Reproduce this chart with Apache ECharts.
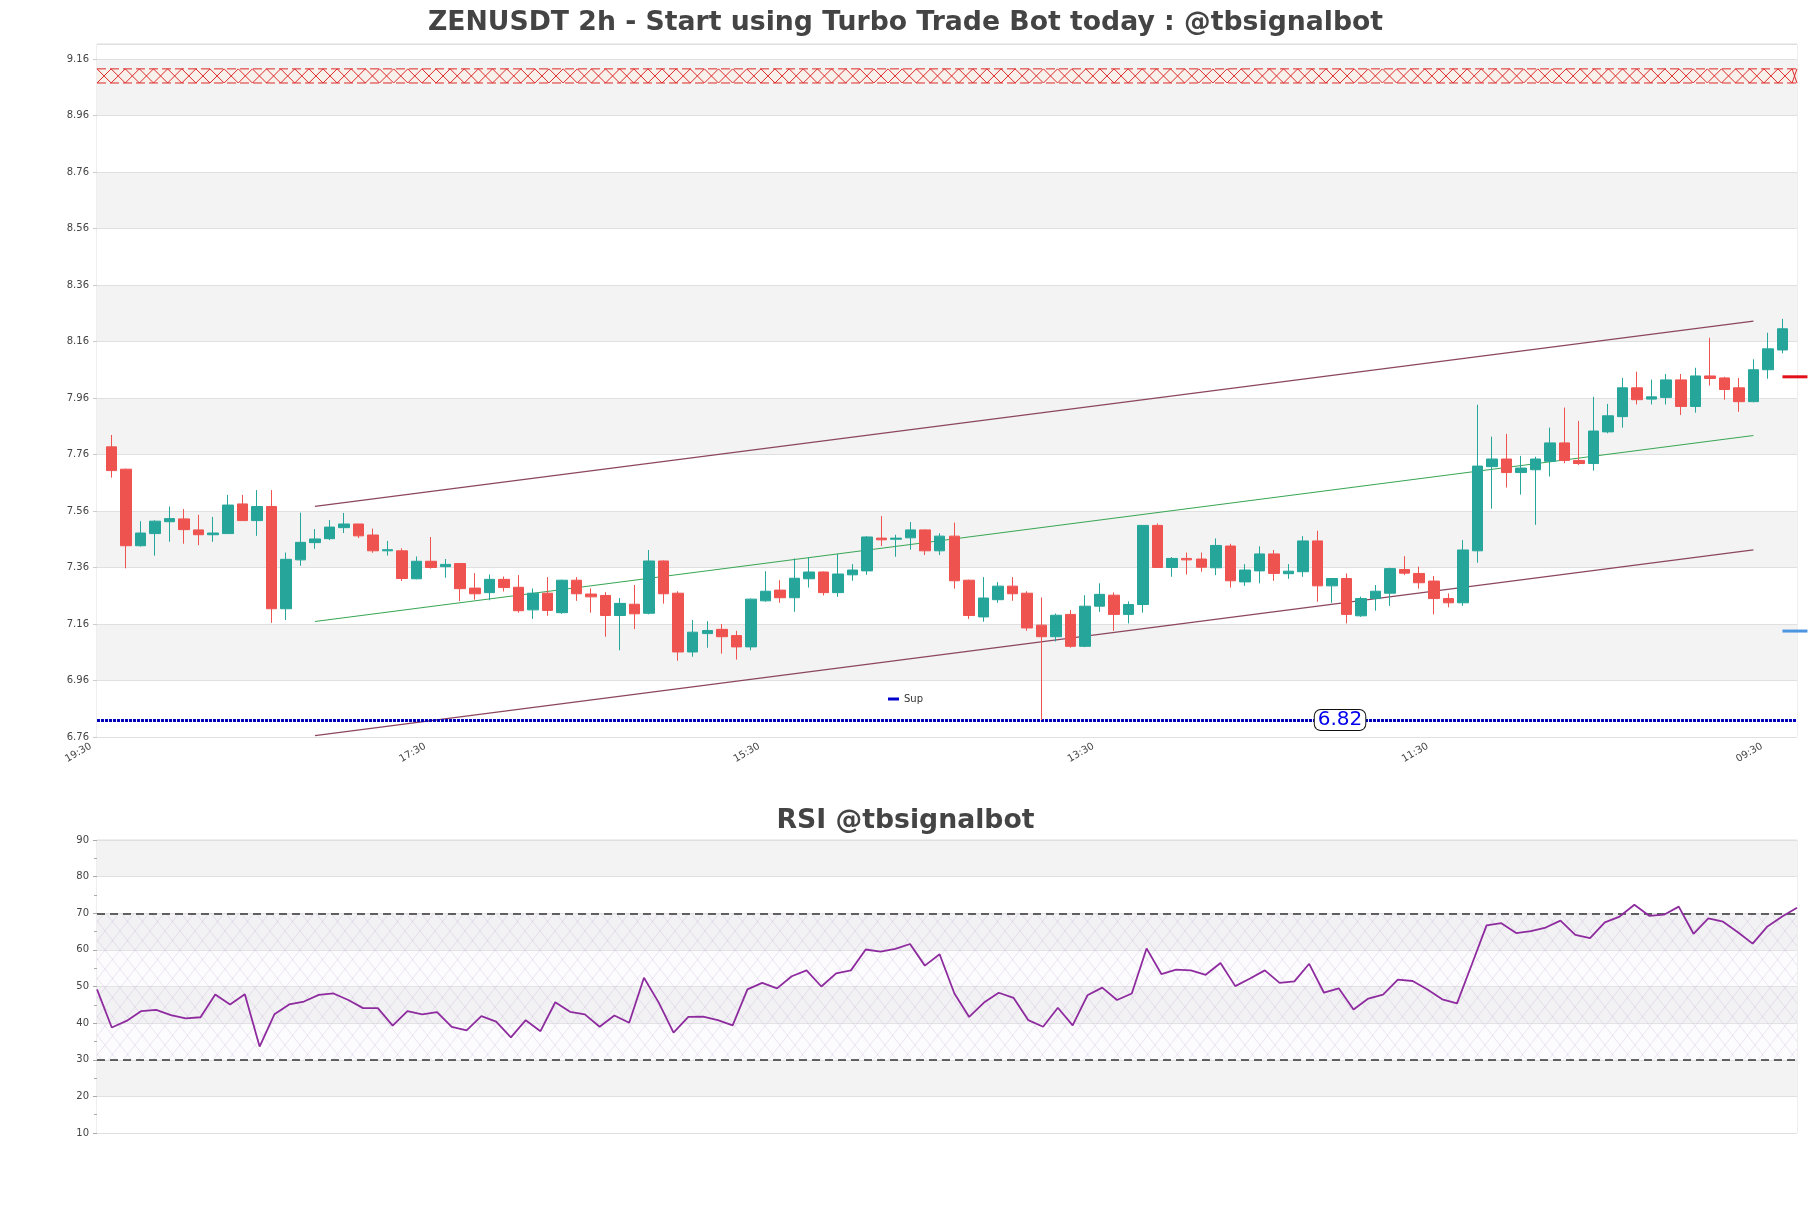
<!DOCTYPE html>
<html>
<head>
<meta charset="utf-8">
<script src="https://cdn.jsdelivr.net/npm/echarts@6/dist/echarts.min.js"></script>
<style>
html,body{margin:0;padding:0;background:#ffffff;}
#chart{width:1811px;height:1208px;}
</style>
</head>
<body>
<div id="chart"></div>
<script>
// ---------------- DATA ----------------
const chartTitle = 'ZENUSDT 2h - Start using Turbo Trade Bot today : @tbsignalbot';
const rsiTitle = 'RSI @tbsignalbot';

// category axis: 2h steps starting 19:30 (one empty slot each side of the candles)
const startMinutes = 19 * 60 + 30;
const stepMinutes = 120;
const slotCount = 118;
const categories = [];
for (let k = 0; k < slotCount; k++) {
  const m = (startMinutes + k * stepMinutes) % (24 * 60);
  categories.push(String(Math.floor(m / 60)).padStart(2, '0') + ':' + String(m % 60).padStart(2, '0'));
}

// candles: open, close, low, high
const opens = [7.787,7.708,7.437,7.480,7.522,7.532,7.493,7.476,7.480,7.585,7.526,7.576,7.214,7.387,7.448,7.462,7.501,7.514,7.475,7.419,
7.419,7.320,7.382,7.363,7.374,7.287,7.271,7.318,7.290,7.210,7.269,7.200,7.315,7.266,7.261,7.190,7.230,7.198,7.383,7.269,
7.061,7.126,7.141,7.119,7.079,7.242,7.280,7.253,7.320,7.344,7.271,7.334,7.348,7.464,7.460,7.465,7.493,7.419,7.471,7.315,
7.185,7.246,7.294,7.269,7.156,7.115,7.194,7.081,7.223,7.262,7.194,7.229,7.509,7.360,7.392,7.390,7.359,7.436,7.309,7.348,
7.408,7.338,7.345,7.454,7.295,7.321,7.189,7.250,7.269,7.353,7.339,7.312,7.250,7.235,7.419,7.717,7.744,7.696,7.706,7.736,
7.801,7.739,7.728,7.840,7.894,7.996,7.956,7.962,8.024,7.930,8.038,8.031,7.996,7.947,8.060,8.130];
const closes = [7.703,7.437,7.482,7.524,7.533,7.494,7.476,7.482,7.581,7.526,7.576,7.214,7.389,7.449,7.461,7.503,7.514,7.472,7.419,7.423,
7.321,7.382,7.360,7.371,7.285,7.267,7.318,7.289,7.207,7.269,7.208,7.315,7.267,7.256,7.190,7.233,7.196,7.383,7.267,7.061,
7.131,7.137,7.115,7.079,7.248,7.276,7.253,7.322,7.344,7.271,7.337,7.351,7.468,7.458,7.464,7.493,7.419,7.471,7.313,7.190,
7.252,7.294,7.267,7.146,7.115,7.191,7.081,7.223,7.265,7.194,7.229,7.509,7.360,7.392,7.387,7.361,7.438,7.313,7.351,7.408,
7.339,7.347,7.454,7.295,7.321,7.194,7.250,7.276,7.356,7.340,7.306,7.250,7.235,7.422,7.719,7.744,7.696,7.712,7.744,7.801,
7.739,7.728,7.843,7.897,7.996,7.954,7.964,8.024,7.930,8.038,8.029,7.990,7.947,8.060,8.134,8.205];
const lows = [7.678,7.357,7.434,7.402,7.451,7.444,7.439,7.451,7.480,7.526,7.472,7.164,7.174,7.366,7.426,7.457,7.482,7.464,7.412,7.402,
7.312,7.318,7.356,7.324,7.241,7.246,7.244,7.275,7.200,7.178,7.189,7.196,7.242,7.200,7.115,7.067,7.142,7.194,7.232,7.030,
7.044,7.076,7.055,7.034,7.067,7.239,7.235,7.203,7.289,7.261,7.256,7.313,7.334,7.436,7.398,7.423,7.404,7.404,7.285,7.178,
7.168,7.235,7.242,7.136,6.820,7.098,7.076,7.078,7.203,7.136,7.162,7.200,7.358,7.327,7.335,7.345,7.333,7.289,7.295,7.304,
7.313,7.320,7.327,7.239,7.235,7.162,7.185,7.207,7.224,7.333,7.285,7.194,7.219,7.224,7.377,7.568,7.643,7.618,7.511,7.682,
7.729,7.723,7.703,7.835,7.855,7.937,7.937,7.937,7.900,7.908,8.004,7.954,7.911,7.945,8.028,8.118];
const highs = [7.829,7.710,7.524,7.527,7.576,7.567,7.546,7.539,7.617,7.617,7.634,7.634,7.413,7.554,7.496,7.528,7.553,7.514,7.498,7.454,
7.428,7.399,7.468,7.390,7.376,7.340,7.335,7.328,7.333,7.286,7.326,7.317,7.326,7.286,7.273,7.252,7.298,7.422,7.385,7.276,
7.174,7.170,7.160,7.136,7.250,7.347,7.315,7.392,7.396,7.346,7.408,7.372,7.471,7.542,7.476,7.521,7.495,7.481,7.519,7.317,
7.326,7.308,7.326,7.276,7.254,7.197,7.209,7.262,7.304,7.272,7.240,7.510,7.516,7.397,7.413,7.413,7.463,7.444,7.372,7.435,
7.422,7.372,7.471,7.490,7.323,7.339,7.257,7.298,7.359,7.400,7.363,7.330,7.268,7.457,7.936,7.823,7.833,7.755,7.752,7.855,
7.926,7.879,7.964,7.939,8.031,8.053,8.025,8.045,8.045,8.067,8.173,8.035,8.031,8.097,8.191,8.240];

// RSI (one value per candle)
const rsiValues = [49.2,38.8,40.6,43.3,43.6,42.2,41.3,41.6,47.8,45.1,47.9,33.6,42.4,45.1,45.9,47.7,48.1,46.3,44.1,44.1,
39.3,43.3,42.4,43.0,39.0,38.0,41.9,40.4,36.1,40.8,37.8,45.7,43.1,42.4,39.0,42.1,40.1,52.4,45.6,37.4,
41.7,41.8,40.8,39.4,49.2,51.0,49.5,52.8,54.4,50.0,53.6,54.4,60.1,59.5,60.3,61.6,55.7,58.8,48.1,41.7,
45.6,48.3,46.9,40.8,39.0,44.2,39.4,47.6,49.7,46.3,48.1,60.4,53.4,54.6,54.4,53.2,56.4,50.1,52.2,54.4,
51.0,51.4,56.2,48.3,49.5,43.7,46.7,47.8,51.9,51.5,49.2,46.5,45.4,56.0,66.7,67.3,64.6,65.1,66.1,68.0,
64.1,63.2,67.5,69.1,72.3,69.3,69.6,71.8,64.4,68.6,67.7,64.8,61.7,66.4,69.1,71.5];

// channel (start slot, end slot, values at start/end)
const channelSlots = [15, 114];
const channelUpper = [7.576, 8.232];
const channelMiddle = [7.169, 7.827];
const channelLower = [6.765, 7.422];

// levels
const supportLevel = 6.82;
const supportLabelSlot = 85;
const resistanceZone = [9.075, 9.125];
const sideMarkLevels = [8.035, 7.135];
const rsiBounds = [30, 70];

// axis ranges
const priceMin = 6.76, priceMax = 9.213, priceStep = 0.2;
const rsiMin = 10, rsiMax = 90, rsiStep = 10;

// ---------------- BUILD ----------------
const candleData = opens.map((o, i) => [i + 1, o, closes[i], lows[i], highs[i]]);
const rsiCategories = rsiValues.map((v, i) => String(i));

// hatch pattern for RSI 30-70 zone
const pat = document.createElement('canvas');
pat.width = 15; pat.height = 19;
const pg = pat.getContext('2d');
pg.fillStyle = 'rgba(240,233,246,0.2)';
pg.fillRect(0, 0, 15, 19);
pg.strokeStyle = 'rgba(175,150,200,0.28)';
pg.lineWidth = 0.8;
pg.beginPath();
pg.moveTo(0, 0); pg.lineTo(15, 19);
pg.moveTo(15, 0); pg.lineTo(0, 19);
pg.stroke();

const chart = echarts.init(document.getElementById('chart'), null, {renderer: 'canvas'});
const font = 'DejaVu Sans';

const option = {
  animation: false,
  backgroundColor: '#ffffff',
  textStyle: {fontFamily: font},
  title: [
    {text: chartTitle, left: 'center', top: 5,
     textStyle: {fontSize: 26.7, fontWeight: 'bold', color: '#444444', fontFamily: font}},
    {text: rsiTitle, left: 'center', top: 803,
     textStyle: {fontSize: 26.7, fontWeight: 'bold', color: '#444444', fontFamily: font}}
  ],
  legend: {
    data: ['Sup'], top: 689, left: 'center', icon: 'rect', itemWidth: 11, itemHeight: 3,
    textStyle: {fontSize: 10, color: '#333333'}
  },
  grid: [
    {left: 97, right: 14, top: 44, height: 693, show: true, borderColor: '#dddddd', borderWidth: 1},
    {left: 97, right: 14, top: 840, height: 293, show: true, borderColor: '#dddddd', borderWidth: 1}
  ],
  xAxis: [
    {type: 'category', gridIndex: 0, data: categories, boundaryGap: false,
     axisLine: {show: false}, axisTick: {show: false}, splitLine: {show: false},
     axisLabel: {interval: 22, rotate: 30, fontSize: 10, color: '#444444', margin: 5, padding: [0, 7, 0, 0]}},
    {type: 'category', gridIndex: 1, data: rsiCategories, boundaryGap: false,
     axisLine: {show: false}, axisTick: {show: false}, axisLabel: {show: false}, splitLine: {show: false}}
  ],
  yAxis: [
    {type: 'value', gridIndex: 0, min: priceMin, max: priceMax, interval: priceStep,
     axisLine: {show: false},
     axisTick: {show: true, length: 4, lineStyle: {color: '#cccccc'}},
     axisLabel: {fontSize: 10, color: '#444444', showMaxLabel: false, formatter: v => v.toFixed(2)},
     splitLine: {show: true, lineStyle: {color: '#e0e0e0', width: 1}},
     splitArea: {show: true, areaStyle: {color: ['#ffffff', '#f3f3f3']}}},
    {type: 'value', gridIndex: 1, min: rsiMin, max: rsiMax, interval: rsiStep,
     axisLine: {show: false},
     axisTick: {show: true, length: 4, lineStyle: {color: '#aaaaaa'}},
     minorTick: {show: true, splitNumber: 2, length: 3, lineStyle: {color: '#aaaaaa'}},
     axisLabel: {fontSize: 10, color: '#444444'},
     splitLine: {show: true, lineStyle: {color: '#e0e0e0', width: 1}},
     splitArea: {show: true, areaStyle: {color: ['#ffffff', '#f3f3f3']}}}
  ],
  series: [
    {
      type: 'custom', name: 'zone', xAxisIndex: 0, yAxisIndex: 0, silent: true, z: 1,
      data: [[0, resistanceZone[0], resistanceZone[1]]],
      encode: {x: 0, y: [1, 2]},
      renderItem: function (params, api) {
        const cs = params.coordSys;
        const yTop = api.coord([0, api.value(2)])[1];
        const yBot = api.coord([0, api.value(1)])[1];
        const h = yBot - yTop;
        const x0 = cs.x, x1 = cs.x + cs.width;
        const za = [], zb = [];
        let k = 0;
        for (let x = x0; x <= x1 + h; x += h, k++) {
          const xx = Math.min(x, x1);
          za.push([xx, k % 2 === 0 ? yTop : yBot]);
          zb.push([xx, k % 2 === 0 ? yBot : yTop]);
          if (xx >= x1) break;
        }
        const red = '#dd2a2a';
        return {
          type: 'group',
          children: [
            {type: 'rect', shape: {x: x0, y: yTop, width: x1 - x0, height: h},
             style: {fill: 'rgba(255,238,225,0.45)'}},
            {type: 'polyline', shape: {points: za}, style: {stroke: red, lineWidth: 1, fill: null}},
            {type: 'polyline', shape: {points: zb}, style: {stroke: red, lineWidth: 1, fill: null}},
            {type: 'line', shape: {x1: x0, y1: yTop, x2: x1, y2: yTop}, style: {stroke: red, lineWidth: 1, lineDash: [9, 4]}},
            {type: 'line', shape: {x1: x0, y1: yBot, x2: x1, y2: yBot}, style: {stroke: red, lineWidth: 1, lineDash: [9, 4]}}
          ]
        };
      }
    },
    {
      type: 'candlestick', name: 'ZENUSDT', xAxisIndex: 0, yAxisIndex: 0, z: 5,
      data: candleData, encode: {x: 0, y: [1, 2, 3, 4]},
      barWidth: 11,
      itemStyle: {color: '#26a69a', color0: '#ef5350', borderColor: '#26a69a', borderColor0: '#ef5350', borderWidth: 1}
    },
    {
      type: 'line', name: 'upper', xAxisIndex: 0, yAxisIndex: 0, symbol: 'none', silent: true, z: 3,
      data: [[channelSlots[0], channelUpper[0]], [channelSlots[1], channelUpper[1]]],
      lineStyle: {color: '#8c4660', width: 1.3}
    },
    {
      type: 'line', name: 'middle', xAxisIndex: 0, yAxisIndex: 0, symbol: 'none', silent: true, z: 3,
      data: [[channelSlots[0], channelMiddle[0]], [channelSlots[1], channelMiddle[1]]],
      lineStyle: {color: '#3aa655', width: 1.1}
    },
    {
      type: 'line', name: 'lower', xAxisIndex: 0, yAxisIndex: 0, symbol: 'none', silent: true, z: 3,
      data: [[channelSlots[0], channelLower[0]], [channelSlots[1], channelLower[1]]],
      lineStyle: {color: '#8c4660', width: 1.3}
    },
    {
      type: 'line', name: 'Sup', xAxisIndex: 0, yAxisIndex: 0, data: [], color: '#0000cc', z: 4,
      markLine: {
        silent: true, symbol: 'none',
        label: {show: false},
        lineStyle: {color: '#0000bb', width: 3, type: [3, 1]},
        data: [{yAxis: supportLevel}]
      },
      markPoint: {
        silent: true, symbol: 'rect', symbolSize: 1, itemStyle: {color: 'rgba(0,0,0,0)'},
        label: {show: true, position: 'inside', offset: [8, 0], formatter: supportLevel.toFixed(2), color: '#0000ee', fontSize: 20,
          backgroundColor: '#ffffff', borderColor: '#111111', borderWidth: 1, borderRadius: 6, padding: [0, 3]},
        data: [{coord: [supportLabelSlot, supportLevel]}]
      }
    },
    {
      type: 'custom', name: 'side', xAxisIndex: 0, yAxisIndex: 0, silent: true, clip: false, z: 6,
      data: sideMarkLevels.map(v => [slotCount - 2, v]),
      encode: {x: 0, y: 1},
      renderItem: function (params, api) {
        const p = api.coord([api.value(0), api.value(1)]);
        const colors = ['#e3101a', '#4d95e0'];
        return {type: 'line', shape: {x1: p[0], y1: p[1], x2: p[0] + 25, y2: p[1]},
                style: {stroke: colors[params.dataIndex], lineWidth: 3}};
      }
    },
    {
      type: 'line', name: 'RSI', xAxisIndex: 1, yAxisIndex: 1, data: rsiValues, symbol: 'none', z: 5,
      lineStyle: {color: '#8e2c9f', width: 1.8}, color: '#8e2c9f',
      markArea: {
        silent: true,
        itemStyle: {color: {image: pat, repeat: 'repeat'}},
        data: [[{yAxis: rsiBounds[0]}, {yAxis: rsiBounds[1]}]]
      },
      markLine: {
        silent: true, symbol: 'none', label: {show: false},
        lineStyle: {color: '#333333', width: 1.5, type: [8, 5]},
        data: [{yAxis: rsiBounds[0]}, {yAxis: rsiBounds[1]}]
      }
    }
  ]
};
chart.setOption(option);
</script>
</body>
</html>
